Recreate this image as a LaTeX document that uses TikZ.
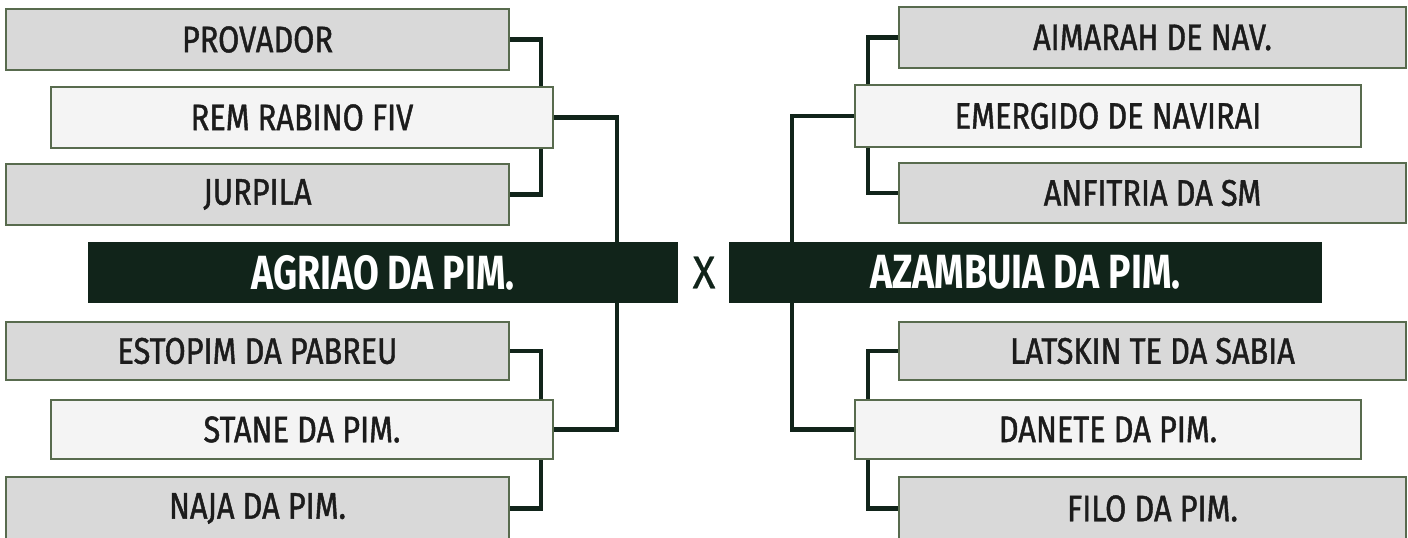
\documentclass[tikz,border=0pt]{standalone}
\usepackage{fontspec}
\usetikzlibrary{backgrounds}
\newfontfamily\boxfont{Fira Sans}[FakeStretch=0.83,FakeBold=1.2]
\newfontfamily\champfont{Fira Sans}[FakeStretch=0.78]
\newfontfamily\versusfont{Fira Sans}[FakeStretch=0.92,FakeBold=0.6]
\definecolor{pitch}{RGB}{17,36,26}
\definecolor{seedgray}{RGB}{217,217,217}
\definecolor{pickgray}{RGB}{244,244,244}
\definecolor{rim}{RGB}{88,107,78}
\definecolor{ink}{RGB}{28,28,28}
\begin{document}
\begin{tikzpicture}[x=1pt,y=-1pt,
  entry/.style={draw=rim,line width=1.3pt,inner sep=0pt,outer sep=0pt,text=ink,font=\boxfont\fontsize{37}{40}\selectfont},
  seed/.style={entry,fill=seedgray,minimum width=503pt},
  pick/.style={entry,fill=pickgray,minimum width=502pt},
  champ/.style={fill=pitch,inner sep=0pt,outer sep=0pt,minimum height=61pt,text=white,font=\champfont\bfseries\fontsize{48}{52}\selectfont},
  link/.style={draw=pitch,line width=4.5pt}]
\useasboundingbox (0,0) rectangle (1408,538);
% left half
\node[seed,minimum height=61pt] (provador) at (257.5,39.5) {PROVADOR};
\node[pick,minimum height=61pt] (rem) at (302,117.5) {REM RABINO FIV};
\node[seed,minimum height=61pt] (jurpila) at (257.5,194.5) {JURPILA};
\node[champ,minimum width=590pt] (agriao) at (383,272.5) {AGRIAO DA PIM.};
\node[seed,minimum height=58pt] (estopim) at (257.5,351) {ESTOPIM DA PABREU};
\node[pick,minimum height=59pt] (stane) at (302,429.5) {STANE DA PIM.};
\node[seed,minimum height=63pt] (naja) at (257.5,508.5) {NAJA DA PIM.};
\node[inner sep=0pt,text=pitch,font=\versusfont\fontsize{46}{50}\selectfont] (versus) at (704,272.5) {X};
% right half
\node[seed,minimum width=507pt,minimum height=61pt] (aimarah) at (1152.5,37.5) {AIMARAH DE NAV.};
\node[pick,minimum width=506pt,minimum height=62pt] (emergido) at (1108,116) {EMERGIDO DE NAVIRAI};
\node[seed,minimum width=507pt,minimum height=60pt] (anfitria) at (1152.5,193) {ANFITRIA DA SM};
\node[champ,minimum width=593pt] (azambuia) at (1025.5,272.5) {AZAMBUIA DA PIM.};
\node[seed,minimum width=507pt,minimum height=58pt] (latskin) at (1152.5,351) {LATSKIN TE DA SABIA};
\node[pick,minimum width=506pt,minimum height=59pt] (danete) at (1108,429.5) {DANETE DA PIM.};
\node[seed,minimum width=507pt,minimum height=63pt] (filo) at (1152.5,508.5) {FILO DA PIM.};
\begin{scope}[on background layer]
\draw[link] (provador.east) -- ++(32,0) |- (jurpila.east);
\draw[link] (estopim.east) -- ++(32,0) |- (naja.east);
\draw[link] (rem.east) -- ++(64,0) |- (stane.east);
\draw[link] (aimarah.west) -- ++(-31,0) |- (anfitria.west);
\draw[link] (latskin.west) -- ++(-31,0) |- (filo.west);
\draw[link] (emergido.west) -- ++(-63,0) |- (danete.west);
\end{scope}
\end{tikzpicture}
\end{document}
